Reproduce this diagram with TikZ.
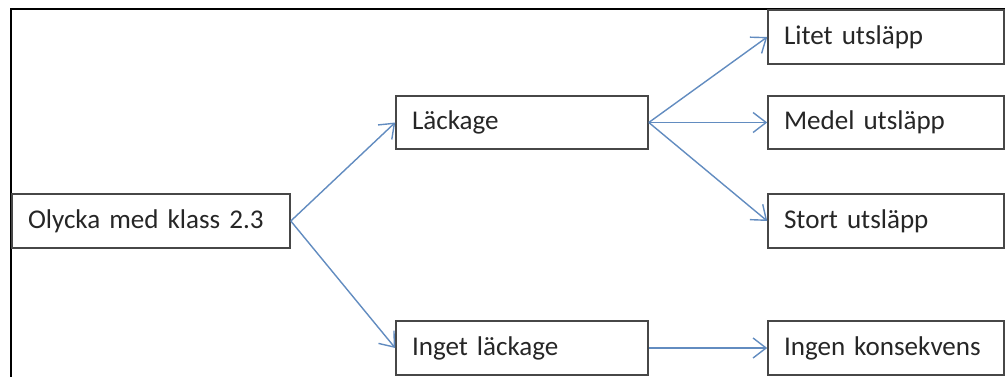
\documentclass[tikz,border=0pt]{standalone}
\usepackage{fontspec}
\setmainfont{Carlito}
\usepackage{tikz}
\usetikzlibrary{arrows.meta,positioning,calc}

\definecolor{arrblue}{RGB}{98,140,192}

\begin{document}
\begin{tikzpicture}[
      box/.style={rectangle, draw=black!72, line width=0.9pt,
                  minimum height=1.07cm, inner xsep=0.32cm, inner ysep=0pt,
                  align=left, text=black!85, font=\fontsize{15.4}{17}\selectfont},
      wide/.style={box, text width=4.92cm},
      mid/.style={box, text width=4.40cm},
      narrow/.style={box, text width=4.08cm},
      arr/.style={-{Straight Barb[length=0.26cm, width=0.4cm]}, draw=arrblue, line width=0.8pt},
    ]

    \useasboundingbox (0,0) rectangle (20.1,-7.54);

    % Frame (top and left edges only)
    \coordinate (fl) at (0.22,-7.54);
    \coordinate (fr) at (20.1,-0.18);
    \draw[line width=1.1pt] (fl) |- (fr);

    % Column 1: accident
    \node[wide] (acc) at (3.02, -4.42) {Olycka med klass 2.3};

    % Column 2: leakage or not
    \node[mid] (leak)   at (10.44, -2.45) {Läckage};
    \node[mid] (noleak) at (10.44, -6.96) {Inget läckage};

    % Column 3: consequences
    \node[narrow] (small) at (17.72, -0.74) {Litet utsläpp};
    \node[narrow] (med)   at (17.72, -2.45) {Medel utsläpp};
    \node[narrow] (big)   at (17.72, -4.42) {Stort utsläpp};
    \node[narrow] (none)  at (17.72, -6.96) {Ingen konsekvens};

    % Arrows: accident to leakage
    \draw[arr] (acc.east) -- (leak.west);
    \draw[arr] (acc.east) -- (noleak.west);

    % Arrows: leakage to release size
    \draw[arr] (leak.east) -- (small.west);
    \draw[arr] (leak.east) -- (med.west);
    \draw[arr] (leak.east) -- (big.west);

    % Arrow: no leakage to no consequence
    \draw[arr] (noleak.east) -- (none.west);

    \end{tikzpicture}
\end{document}
